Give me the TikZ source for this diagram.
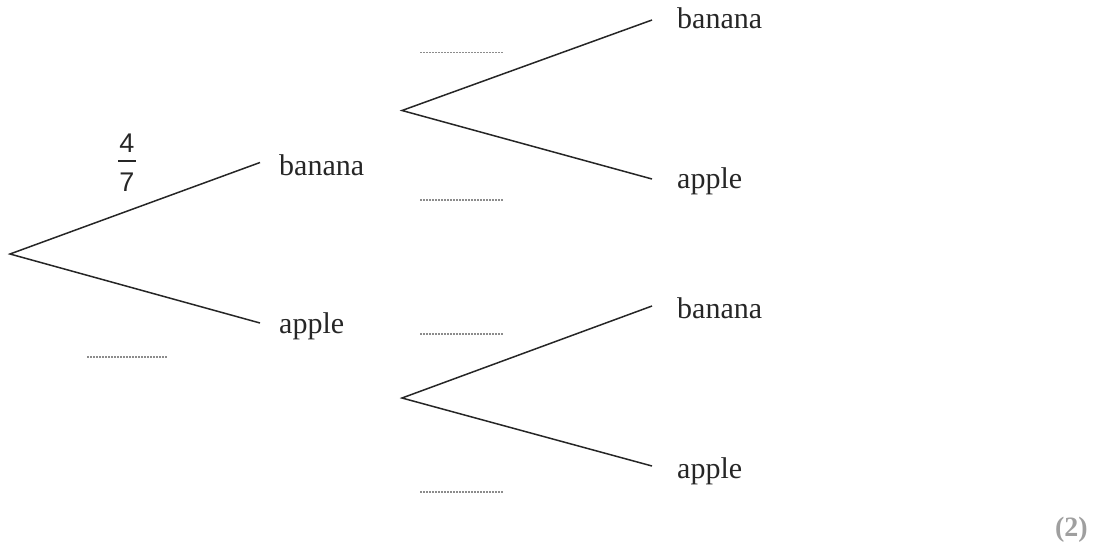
\documentclass[tikz,border=0pt]{standalone}
\usepackage{fontspec}
\setmainfont{Liberation Serif}
\newfontfamily\digitfont{Liberation Sans}
\begin{document}
\begin{tikzpicture}[x=1pt,y=-1pt,
  branch/.style={draw=black!85,line width=1.5pt},
  lbl/.style={anchor=base west,inner sep=0pt,font=\fontsize{30}{36}\selectfont,text=black!85},
  blank/.style={draw=gray!90,line width=1.3pt,dash pattern=on 1.5pt off 1.5pt},
  marks/.style={anchor=base east,inner sep=0pt,font=\fontsize{28}{34}\selectfont\bfseries,text=gray!75},
  digit/.style={inner sep=0pt,font=\fontsize{27}{32}\selectfont\digitfont,text=black!85}]
\useasboundingbox (0,0) rectangle (1097,544);
% vertices and branch ends
\coordinate (r) at (10,254);
\coordinate (rB) at (260,162.5);
\coordinate (rA) at (260,323);
\coordinate (v1) at (402,110.5);
\coordinate (v1B) at (652,20);
\coordinate (v1A) at (652,179);
\coordinate (v2) at (402,398);
\coordinate (v2B) at (652,306);
\coordinate (v2A) at (652,466);
% branches
\draw[branch] (rB) -- (r) -- (rA);
\draw[branch] (v1B) -- (v1) -- (v1A);
\draw[branch] (v2B) -- (v2) -- (v2A);
% labels
\node[lbl] (l1) at (279,175) {banana};
\node[lbl] (l2) at (279,333) {apple};
\node[lbl] (l3) at (677,28) {banana};
\node[lbl] (l4) at (677,188) {apple};
\node[lbl] (l5) at (677,318) {banana};
\node[lbl] (l6) at (677,478) {apple};
% fraction
\node[digit] (num) at (127,143.5) {4};
\node[digit] (den) at (127,182.5) {7};
\draw[line width=1.4pt,black!85] (118,161) -- (136,161);
% blanks
\coordinate (d1a) at (87,357); \coordinate (d1b) at (168,357);
\draw[blank] (d1a) -- (d1b);
\coordinate (d2a) at (420,52.5); \coordinate (d2b) at (503,52.5);
\draw[blank] (d2a) -- (d2b);
\coordinate (d3a) at (420,200); \coordinate (d3b) at (503,200);
\draw[blank] (d3a) -- (d3b);
\coordinate (d4a) at (420,334); \coordinate (d4b) at (503,334);
\draw[blank] (d4a) -- (d4b);
\coordinate (d5a) at (420,492); \coordinate (d5b) at (503,492);
\draw[blank] (d5a) -- (d5b);
% marks
\node[marks] (m) at (1088,536) {(2)};
\end{tikzpicture}
\end{document}
